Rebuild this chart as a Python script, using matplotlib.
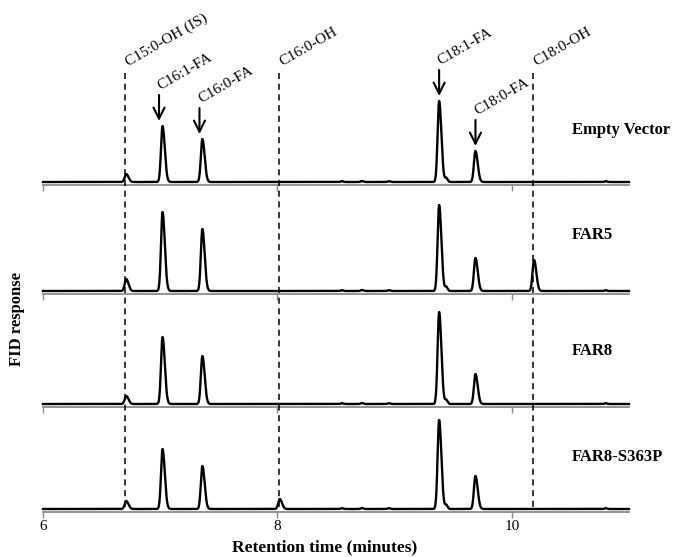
import matplotlib
matplotlib.use("Agg")
import matplotlib.pyplot as plt
import numpy as np

plt.rcParams['font.family'] = ['Liberation Serif', 'DejaVu Serif']

# samples (one trace each, top to bottom)
samples = ['Empty Vector', 'FAR5', 'FAR8', 'FAR8-S363P']

# compounds and their retention times (minutes)
compounds = ['C15:0-OH (IS)', 'C16:1-FA', 'C16:0-FA', 'C16:0-OH',
             'C18:1-FA', 'C18:0-FA', 'C18:0-OH']
ret_times = [6.71, 7.02, 7.36, 8.02, 9.38, 9.69, 10.19]

# peak heights (FID response, arbitrary units), same order as compounds
h_empty = [8, 56, 43, 0, 81, 31, 0]
h_far5 = [12, 79, 62, 0, 86, 33, 31]
h_far8 = [8, 67, 48, 0, 92, 30, 0]
h_s363p = [8, 60, 43, 10, 89, 33, 0]
peak_heights = [h_empty, h_far5, h_far8, h_s363p]

# small extra peaks seen in every run (shoulder after C18:1 and baseline blips)
minor_times = [9.44, 8.55, 8.72, 8.95, 10.80]
minor_heights = [4, 0.8, 1.0, 0.8, 0.8]

# which compounds get a dashed reference line / an arrow
dashed = ['C15:0-OH (IS)', 'C16:0-OH', 'C18:0-OH']
arrowed = ['C16:1-FA', 'C16:0-FA', 'C18:1-FA', 'C18:0-FA']

W, H = 677, 557
fig = plt.figure(figsize=(W / 100, H / 100), dpi=100)

t = np.linspace(6, 11, 4000)


def peak(t0, h, sl=0.013, sr=0.019):
    s = np.where(t < t0, sl, sr)
    return h * np.exp(-0.5 * ((t - t0) / s) ** 2)


left = 43 / W
width = 586 / W
spine_px = [185, 294, 407, 512]
label_px = [130, 235, 351, 457]
axes = []
for i, name in enumerate(samples):
    ax = fig.add_axes([left, 1 - spine_px[i] / H, width, 100 / H])
    y = np.zeros_like(t)
    for rt, h in zip(ret_times, peak_heights[i]):
        if h > 0:
            y += peak(rt, h)
    for rt, h in zip(minor_times, minor_heights):
        y += peak(rt, h, 0.009, 0.012)
    ax.plot(t, y, color='black', lw=1.7, clip_on=False)
    ax.set_xlim(6, 11)
    ax.set_ylim(-3, 97)
    ax.patch.set_alpha(0)
    for s in ['left', 'right', 'top']:
        ax.spines[s].set_visible(False)
    ax.spines['bottom'].set_color('#8a8a8a')
    ax.spines['bottom'].set_linewidth(1.3)
    ax.set_yticks([])
    ax.set_xticks([6, 8, 10])
    ax.tick_params(axis='x', direction='out', length=4, width=1, color='#8a8a8a',
                   labelsize=11, pad=2, labelbottom=(i == len(samples) - 1))
    fig.text(572 / W, 1 - label_px[i] / H, name, ha='left', va='center',
             fontsize=12, fontweight='bold')
    axes.append(ax)

# arrows and labels above the top trace
ax0 = axes[0]
arrow_dx = {'C16:1-FA': -0.03, 'C16:0-FA': -0.025, 'C18:1-FA': 0.0, 'C18:0-FA': 0.0}
for name in arrowed:
    k = compounds.index(name)
    x = ret_times[k] + arrow_dx[name]
    h = h_empty[k]
    ax0.annotate('', xy=(x, h + 5), xytext=(x, h + 31),
                 arrowprops=dict(arrowstyle='->', lw=1.5, color='black',
                                 mutation_scale=20, shrinkA=0, shrinkB=0),
                 annotation_clip=False)
    ax0.text(x + 0.025, h + 33, name, rotation=30, rotation_mode='anchor',
             ha='left', va='bottom', fontsize=11, clip_on=False)

# dashed reference lines across all traces
ov = fig.add_axes([left, 0, width, 1])
ov.set_xlim(6, 11)
ov.set_ylim(H, 0)
ov.axis('off')
ov.patch.set_alpha(0)
for name in dashed:
    x = ret_times[compounds.index(name)] - 0.01
    ov.vlines(x, 73, 509, colors='black', linestyles=(0, (4, 3)), lw=1.1)
    ov.text(x + 0.045, 69, name, rotation=30, rotation_mode='anchor',
            ha='left', va='bottom', fontsize=11)

fig.text(325 / W, 1 - 547 / H, 'Retention time (minutes)', ha='center', va='center',
         fontsize=12.5, fontweight='bold')
fig.text(17 / W, 1 - 319 / H, 'FID response', ha='center', va='center',
         rotation=90, fontsize=12, fontweight='bold')

fig.savefig('out.png', dpi=100)
